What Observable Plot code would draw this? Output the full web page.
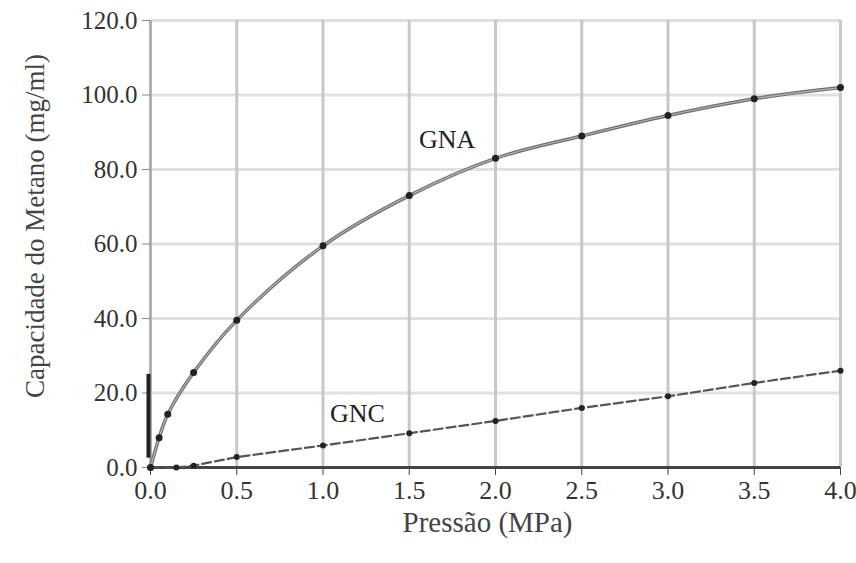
<!DOCTYPE html>
<html><head><meta charset="utf-8">
<script src="https://cdn.jsdelivr.net/npm/d3@7"></script>
<script src="https://cdn.jsdelivr.net/npm/@observablehq/plot@0.6"></script>
<style>body{margin:0;background:#fff} svg text{font-family:"Liberation Serif","DejaVu Serif",serif !important}</style>
</head><body><div id="chart"></div>
<script>
// Data
const gnaX = [0, 0.05, 0.1, 0.25, 0.5, 1.0, 1.5, 2.0, 2.5, 3.0, 3.5, 4.0];
const gnaY = [0, 8.0, 14.3, 25.5, 39.5, 59.5, 73.0, 83.0, 89.0, 94.5, 99.0, 102.0];
const gncX = [0, 0.15, 0.25, 0.5, 1.0, 1.5, 2.0, 2.5, 3.0, 3.5, 4.0];
const gncY = [0, 0, 0.5, 2.8, 5.9, 9.2, 12.5, 16.0, 19.1, 22.7, 26.0];
const xTicks = [0, 0.5, 1.0, 1.5, 2.0, 2.5, 3.0, 3.5, 4.0];
const yTicks = [0, 20, 40, 60, 80, 100, 120];
const seriesLabels = [
  {name: "GNA", x: 1.72, y: 88},
  {name: "GNC", x: 1.2, y: 14.5}
];
const xTitle = "Pressão (MPa)";
const yTitle = "Capacidade do Metano (mg/ml)";

const gna = gnaX.map((x, i) => ({x, y: gnaY[i]}));
const gnc = gncX.map((x, i) => ({x, y: gncY[i]}));
const fmt = d => d.toFixed(1);

const chart = Plot.plot({
  width: 856, height: 563,
  marginLeft: 150, marginRight: 16, marginTop: 20, marginBottom: 96,
  style: {fontFamily: "Liberation Serif, DejaVu Serif, serif", fontSize: "25px", color: "#333", background: "#fff"},
  x: {domain: [0, 4]},
  y: {domain: [0, 120]},
  marks: [
    Plot.gridY(yTicks, {stroke: "#e0e0e0", strokeWidth: 3, strokeOpacity: 1}),
    Plot.gridX(xTicks, {stroke: "#c8c8c8", strokeWidth: 3, strokeOpacity: 1}),
    Plot.ruleX([0], {stroke: "#b0b0b0", strokeWidth: 3}),
    Plot.axisX(xTicks, {tickSize: 8, tickPadding: 5, tickFormat: fmt, label: null, stroke: "#444", fontSize: 26}),
    Plot.axisY(yTicks, {tickSize: 8, tickPadding: 5, tickFormat: fmt, label: null, stroke: "#888", fontSize: 25}),
    Plot.ruleY([0], {stroke: "#444", strokeWidth: 3}),
    Plot.ruleX([0], {y1: 2.5, y2: 25, stroke: "#222", strokeWidth: 4, dx: -2}),
    Plot.line(gna, {x: "x", y: "y", curve: "catmull-rom", stroke: "#6f6f6f", strokeWidth: 3.5}),
    Plot.line(gna, {x: "x", y: "y", curve: "catmull-rom", stroke: "#b4b4b4", strokeWidth: 1.2}),
    Plot.line(gnc, {x: "x", y: "y", stroke: "#555", strokeWidth: 2.2, strokeDasharray: "9,4"}),
    Plot.dot(gna, {x: "x", y: "y", r: 3.5, fill: "#222"}),
    Plot.dot(gnc, {x: "x", y: "y", r: 3, fill: "#222"}),
    Plot.text(seriesLabels, {x: "x", y: "y", text: "name", fontSize: 26, fill: "#222"}),
    Plot.text([xTitle], {frameAnchor: "bottom", lineAnchor: "middle", dy: 55, dx: -8, fontSize: 29, fill: "#444"}),
    Plot.text([yTitle], {frameAnchor: "left", textAnchor: "middle", lineAnchor: "middle", dx: -115, dy: -18, rotate: -90, fontSize: 27, fill: "#444"})
  ]
});
document.getElementById("chart").appendChild(chart);
</script>
</body></html>
